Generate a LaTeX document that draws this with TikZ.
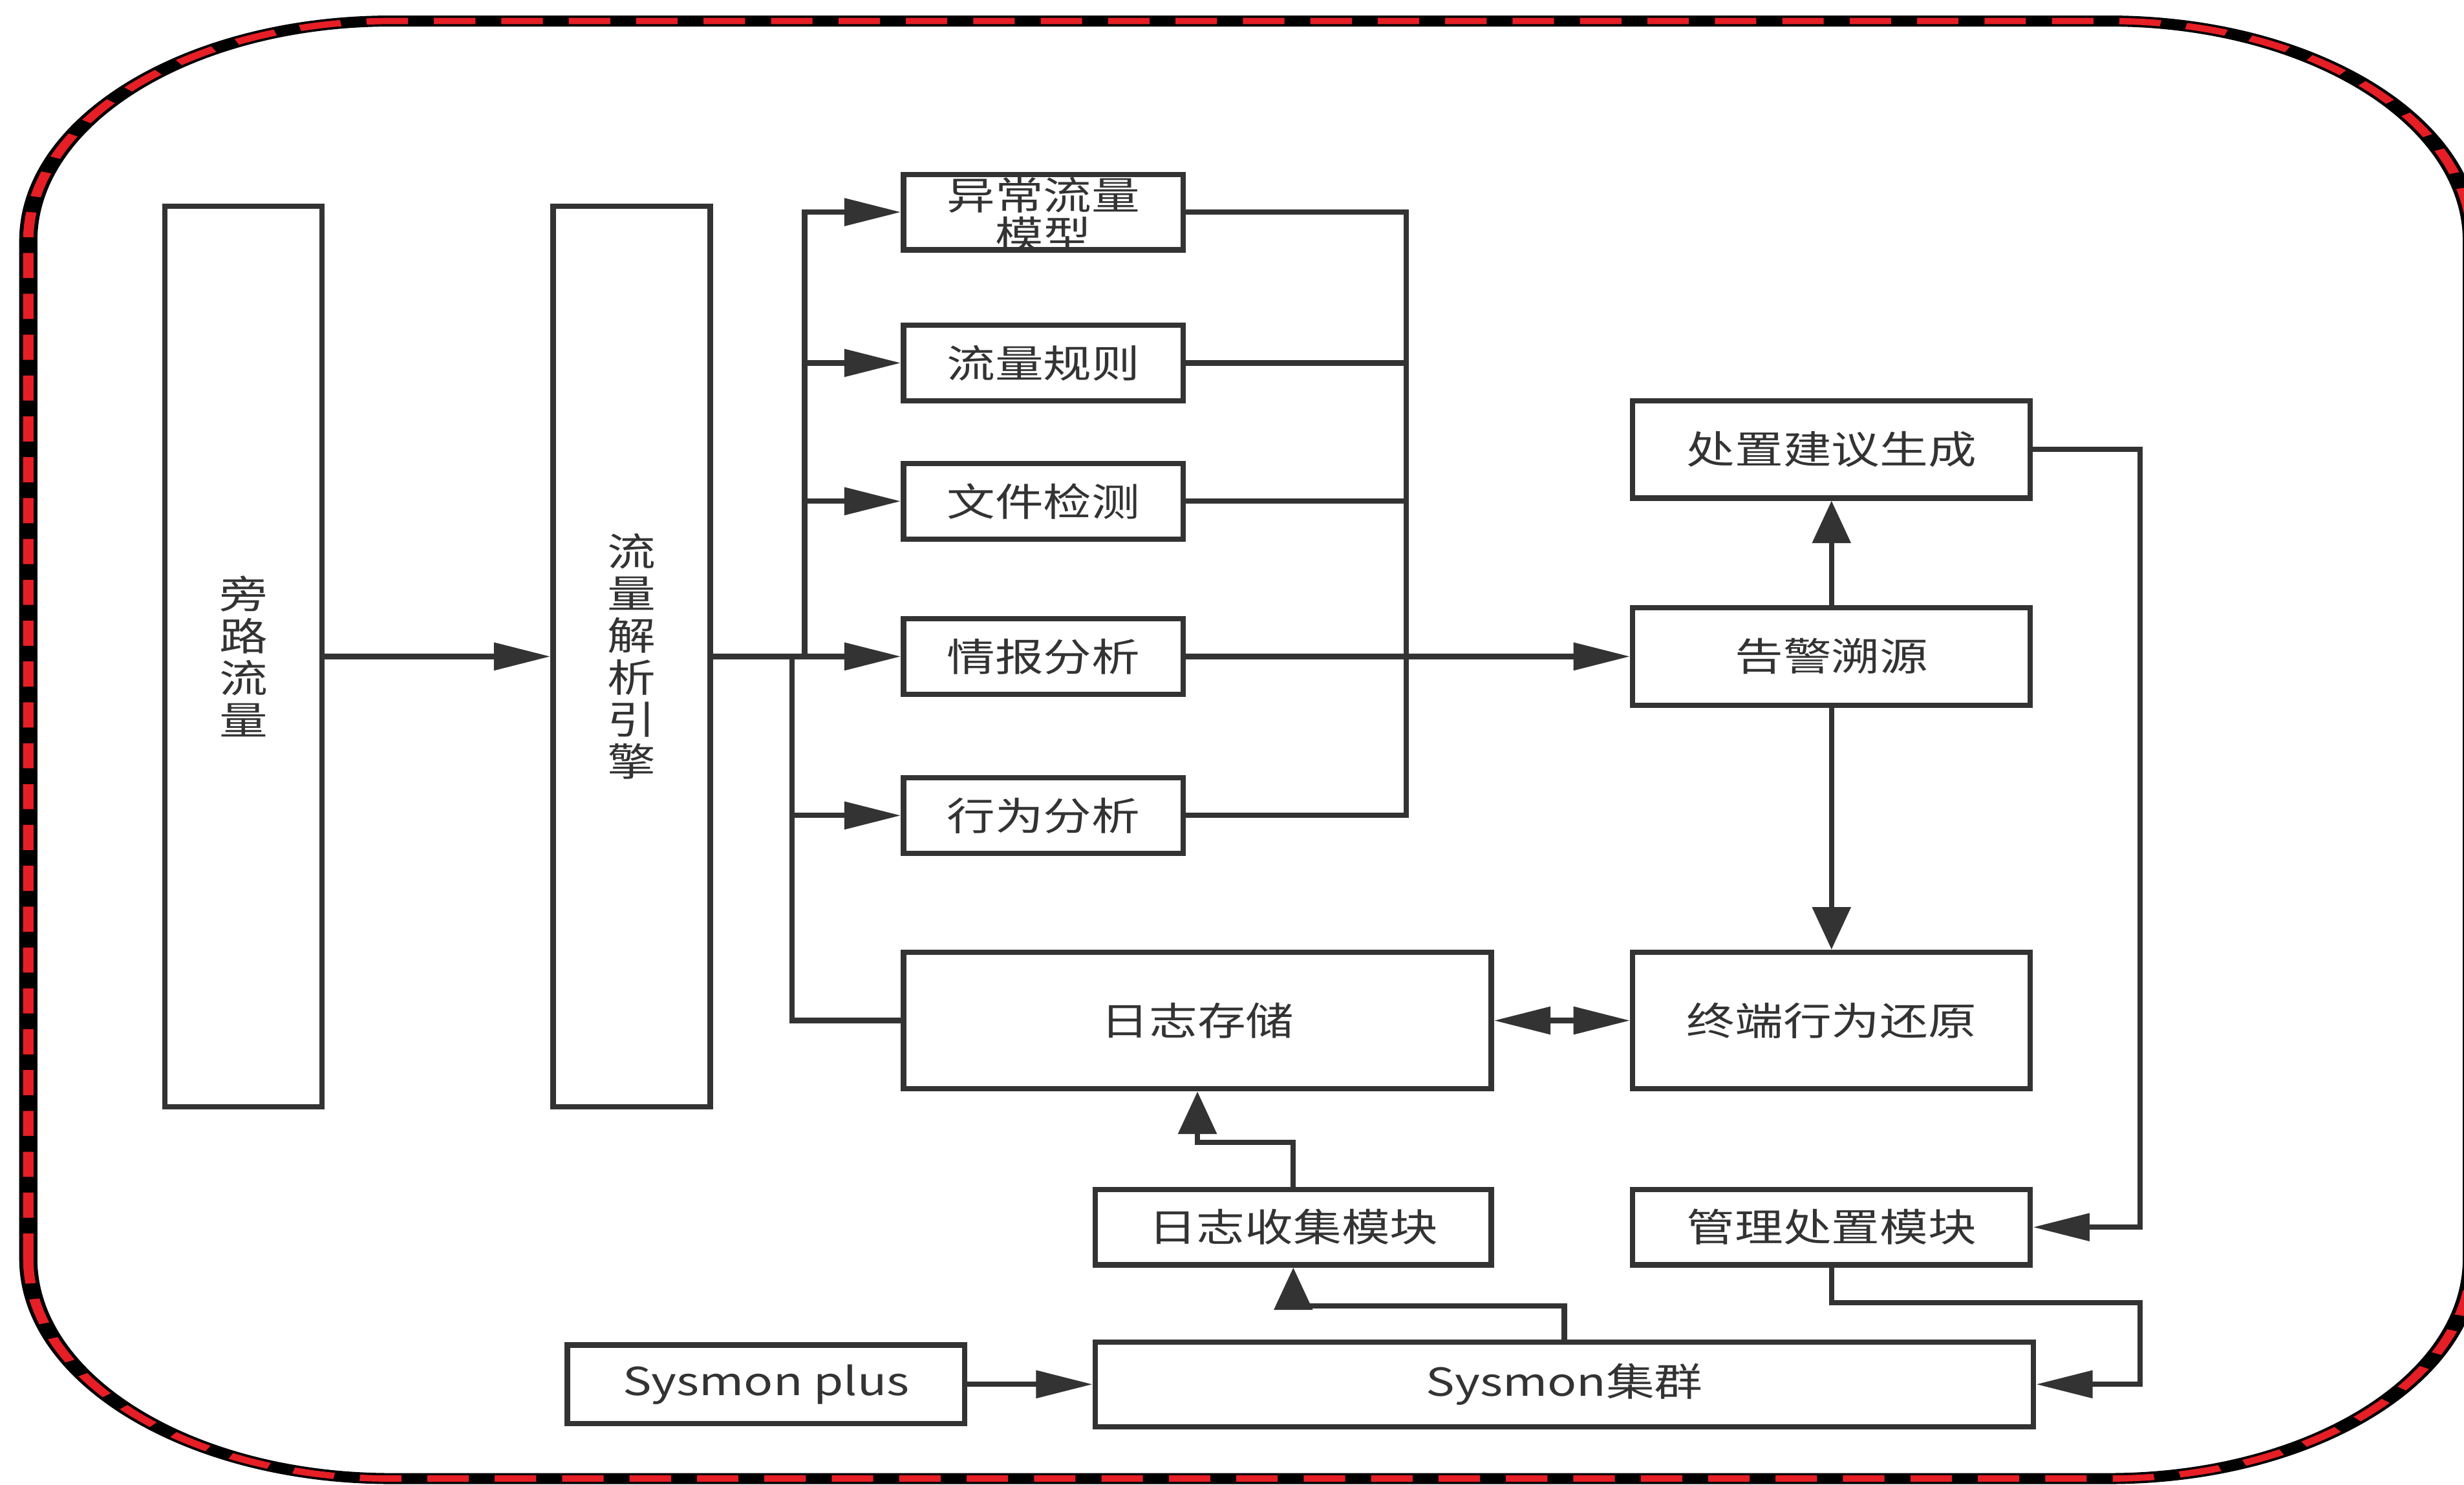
\documentclass[tikz,border=0pt]{standalone}
\usepackage{fontspec}
\setmainfont{Noto Sans CJK SC}[FakeStretch=1.25]
\usetikzlibrary{arrows.meta}

\definecolor{linegray}{HTML}{333333}
\definecolor{dashred}{HTML}{E61E25}

\tikzset{
  box/.style={draw=linegray, line width=2.4pt, inner sep=0pt, text=linegray,
    font=\fontsize{17.5}{19}\selectfont},
  smallbox/.style={box, minimum width=4.45cm, minimum height=1.2cm},
  sidebox/.style={box, minimum width=6.325cm},
  wire/.style={draw=linegray, line width=2.4pt},
  harrow/.style={wire, -{Triangle[length=0.9cm, width=0.425cm]}},
  varrow/.style={wire, -{Triangle[length=0.675cm, width=0.6cm]}},
}

\begin{document}
\begin{tikzpicture}

\useasboundingbox (0,0) rectangle (39.2,23.625);
\clip (0,0) rectangle (39.2,23.625);

% Outer frame (stretched sideways)
\begin{scope}[transform canvas={xscale=1.65}]
\draw[black, line width=0.175cm, rounded corners=3.5cm] (0.2727,0.1) rectangle (23.833,23.29);
\draw[dashred, line width=0.1cm, dash pattern=on 0.4cm off 0.25cm, rounded corners=3.5cm] (0.2727,0.1) rectangle (23.833,23.29);
\end{scope}

% Input side
\node[box, minimum width=2.5cm, minimum height=14.325cm, align=center] (bypass) at (3.875,13.18) {旁\\路\\流\\量};
\node[box, minimum width=2.5cm, minimum height=14.325cm, align=center] (engine) at (10.05,13.18) {流\\量\\解\\析\\引\\擎};

% Analysis modules
\node[smallbox, align=center, font=\fontsize{17.5}{17.7}\selectfont, text height=1.18cm, text depth=0cm] (anom) at (16.6,20.25) {异常流量\\模型};
\node[smallbox] (rules) at (16.6,17.85) {流量规则};
\node[smallbox] (filedet) at (16.6,15.65) {文件检测};
\node[smallbox] (intel) at (16.6,13.18) {情报分析};
\node[smallbox] (behav) at (16.6,10.65) {行为分析};
\node[box, minimum width=9.35cm, minimum height=2.175cm] (logstore) at (19.05,7.3875) {日志存储};

% Response side
\node[sidebox, minimum height=1.55cm] (advice) at (29.1375,16.475) {处置建议生成};
\node[sidebox, minimum height=1.55cm] (alarm) at (29.1375,13.18) {告警溯源};
\node[sidebox, minimum height=2.175cm] (terminal) at (29.1375,7.3875) {终端行为还原};
\node[box, minimum width=6.3cm, minimum height=1.2cm] (logcollect) at (20.575,4.1) {日志收集模块};
\node[sidebox, minimum height=1.2cm] (mgmt) at (29.1375,4.1) {管理处置模块};

% Sysmon
\node[box, minimum width=6.325cm, minimum height=1.25cm] (sysplus) at (12.1875,1.6) {Sysmon plus};
\node[box, minimum width=14.925cm, minimum height=1.35cm] (cluster) at (24.8875,1.6) {Sysmon集群};

% Bend points
\coordinate (up) at (12.8,13.18);
\coordinate (down) at (12.6,13.18);
\coordinate (bus) at (22.375,13.18);
\coordinate (rloop) at (34.05,16.475);
\coordinate (mbend) at (34.05,2.9);
\coordinate (ctop) at (24.8875,2.85);
\coordinate (lctop) at (20.575,5.45);

% Traffic into the engine and out to the modules
\draw[harrow] (bypass) -- (engine);
\draw[harrow] (engine) -- (intel);
\draw[harrow] (up) |- (anom.west);
\draw[harrow] (up) |- (rules.west);
\draw[harrow] (up) |- (filedet.west);
\draw[harrow] (down) |- (behav.west);
\draw[wire] (down) |- (logstore.west);

% Modules into the alarm
\draw[wire] (anom.east) -| (bus);
\draw[wire] (rules.east) -| (bus);
\draw[wire] (filedet.east) -| (bus);
\draw[wire] (behav.east) -| (bus);
\draw[harrow] (intel) -- (alarm);

% Alarm tracing
\draw[varrow] (alarm) -- (advice);
\draw[varrow] (alarm) -- (terminal);
\draw[wire, {Triangle[length=0.9cm, width=0.425cm]}-{Triangle[length=0.9cm, width=0.425cm]}] (logstore) -- (terminal);

% Disposal loop
\draw[harrow] (advice.east) -- (rloop) |- (mgmt.east);
\draw[harrow] (mgmt.south) |- (mbend) |- (cluster.east);

% Log collection
\draw[harrow] (sysplus) -- (cluster);
\draw[varrow] (cluster.north) -- (ctop) -| (logcollect.south);
\draw[varrow] (logcollect.north) -- (lctop) -| (logstore.south);

\end{tikzpicture}
\end{document}
